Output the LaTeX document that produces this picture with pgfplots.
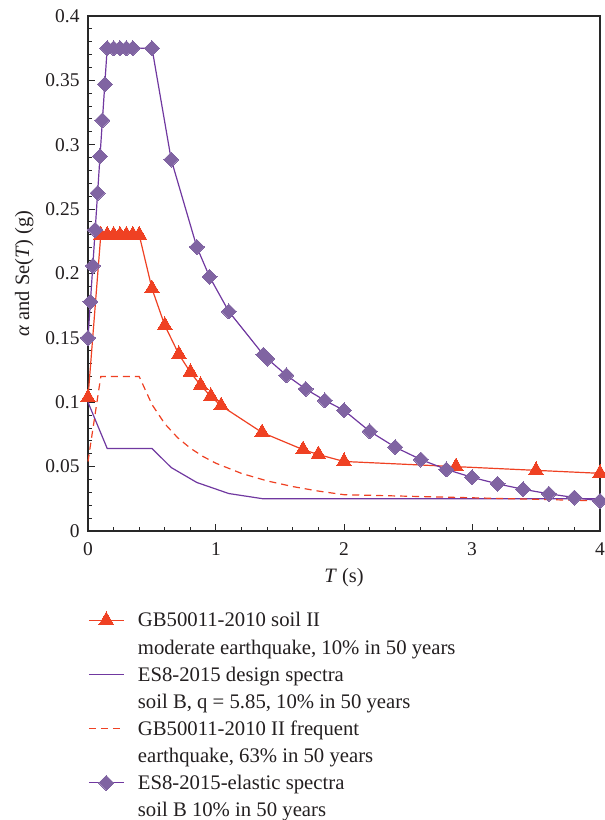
\documentclass[border=0pt]{standalone}
\usepackage{fontspec}
\setmainfont{Liberation Serif}
\usepackage{pgfplots}
\pgfplotsset{compat=1.18}
\definecolor{rd}{RGB}{239,65,35}
\definecolor{pm}{RGB}{128,100,162}
\definecolor{pl}{RGB}{112,56,160}
\definecolor{ax}{RGB}{40,40,40}
\definecolor{tx}{RGB}{35,31,32}
\begin{document}
\begin{tikzpicture}
\begin{axis}[
  name=ax, at={(0,0)}, anchor=south west,
  scale only axis, width=512bp, height=515bp,
  xmin=0, xmax=4, ymin=0, ymax=0.4,
  xtick={0,1,2,3,4},
  ytick={0,0.05,0.1,0.15,0.2,0.25,0.3,0.35,0.4},
  yticklabels={0,0.05,0.1,0.15,0.2,0.25,0.3,0.35,0.4},
  minor x tick num=4, minor y tick num=4,
  tick pos=left, tick align=inside,
  major tick length=7bp, minor tick length=4.5bp,
  axis line style={ax, line width=1.6bp},
  every tick/.style={ax, line width=1bp},
  clip=false,
  /pgf/number format/assume math mode=true,
  ticklabel style={font=\rmfamily\fontsize{19.5}{23}\selectfont, text=tx},
  yticklabel style={xshift=-5bp},
  xticklabel style={yshift=-8bp},
  xlabel={\textit{T} (s)},
  ylabel={\textit{α} and Se(\textit{T}) (g)},
  label style={font=\rmfamily\fontsize{20.5}{25}\selectfont, text=tx},
  xlabel style={yshift=-6bp},
  ylabel style={yshift=5bp},
  legend style={at={(axis description cs:0.0,-0.149)}, anchor=north west,
    draw=none, fill=none, inner sep=0pt, row sep=33.7bp, column sep=13.5bp,
    cells={anchor=base west}, nodes={inner sep=0pt, text=tx},
    font=\rmfamily\fontsize{20.8}{27.2}\selectfont},
  legend image code/.code={\draw[mark repeat=2,mark phase=2] plot coordinates {(0bp,6.5bp) (17.5bp,6.5bp) (35bp,6.5bp)};},
]
% GB50011-2010 moderate (triangles)
\addplot[rd, line width=1.2bp, mark=triangle*, mark size=8.5bp, mark options={fill=rd, draw=rd, line width=0pt}]
coordinates {
(0,0.1035) (0.1,0.23) (0.15,0.23) (0.2,0.23) (0.25,0.23) (0.3,0.23) (0.35,0.23) (0.4,0.23)
(0.5,0.1882) (0.6,0.1597) (0.71,0.1372) (0.8,0.1233) (0.88,0.1131) (0.96,0.1046) (1.04,0.0973)
(1.36,0.0765) (1.68,0.0632) (1.8,0.0594) (2.0,0.0540) (2.875,0.0500) (3.5,0.0471) (4.0,0.0448)
};
\addlegendentry{\begin{tabular}[t]{@{}l@{}}GB50011-2010 soil II\\moderate earthquake, 10\% in 50 years\end{tabular}}
% ES8-2015 design spectra
\addplot[pl, line width=1.2bp, mark=none]
coordinates {
(0,0.1) (0.15,0.0641) (0.5,0.0641) (0.65,0.0493) (0.85,0.0377) (1.1,0.0291) (1.37,0.025) (4.0,0.025)
};
\addlegendentry{\begin{tabular}[t]{@{}l@{}}ES8-2015 design spectra\\soil B, q = 5.85, 10\% in 50 years\end{tabular}}
% GB50011-2010 frequent (dashed)
\addplot[rd, line width=1.2bp, dash pattern=on 7bp off 5bp, mark=none]
coordinates {
(0,0.054) (0.1,0.12) (0.4,0.12) (0.5,0.0982) (0.6,0.0833) (0.7,0.0725) (0.8,0.0643) (0.9,0.0578)
(1.0,0.0526) (1.2,0.0447) (1.4,0.0389) (1.6,0.0345) (1.8,0.0310) (2.0,0.0282) (4.0,0.0234)
};
\addlegendentry{\begin{tabular}[t]{@{}l@{}}GB50011-2010 II frequent\\earthquake, 63\% in 50 years\end{tabular}}
% ES8-2015 elastic (diamonds)
\addplot[pl, line width=1.2bp, mark=square*, mark size=5.3bp, mark options={rotate=45, fill=pm, draw=pm, line width=0pt}]
coordinates {
(0,0.15) (0.01875,0.178) (0.0375,0.206) (0.05625,0.234) (0.075,0.2625) (0.09375,0.291) (0.1125,0.319) (0.13125,0.347)
(0.15,0.375) (0.2,0.375) (0.25,0.375) (0.3,0.375) (0.35,0.375) (0.5,0.375)
(0.65,0.2885) (0.85,0.2206) (0.95,0.1974) (1.1,0.1705) (1.37,0.1369) (1.4,0.1339) (1.55,0.121) (1.7,0.1103) (1.85,0.1014) (2.0,0.09375)
(2.2,0.0775) (2.4,0.0651) (2.6,0.0555) (2.8,0.0478) (3.0,0.0417) (3.2,0.0366) (3.4,0.0324) (3.6,0.0289) (3.8,0.026) (4.0,0.0234)
};
\addlegendentry{\begin{tabular}[t]{@{}l@{}}ES8-2015-elastic spectra\\soil B 10\% in 50 years\end{tabular}}
\end{axis}
\pgfresetboundingbox
\useasboundingbox ([xshift=-88bp,yshift=-289bp]ax.south west) rectangle ([xshift=5bp,yshift=16bp]ax.north east);
\end{tikzpicture}
\end{document}
